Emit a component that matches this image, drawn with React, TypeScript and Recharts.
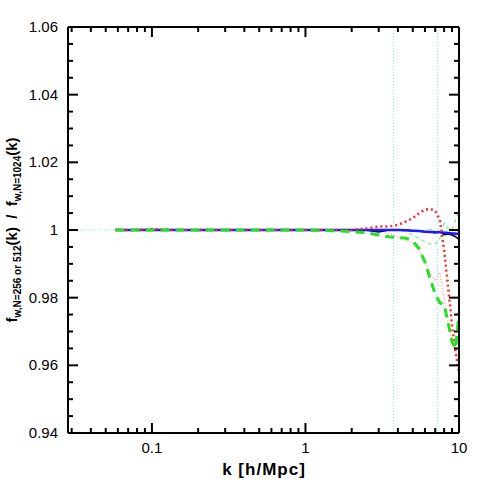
import { LineChart, Line, XAxis, YAxis, ReferenceLine } from 'recharts';

// ----------------------------------------------------------------------

const kGrid = [
  0.058, 0.08, 0.1, 0.15, 0.2, 0.3, 0.5, 0.7, 1, 1.5, 2, 2.5, 3, 3.5, 4, 4.5, 5, 5.5, 6, 6.5, 7,
  7.5, 8, 8.5, 9, 9.5, 10,
];

const blackSolid = [
  1, 1, 1, 1, 1, 1, 1, 1, 1, 1, 1, 0.9999, 0.9994, 1, 1, 0.9999, 0.9998, 0.9997, 0.9995, 0.9994,
  0.9992, 0.9995, 0.9986, 0.9988, 0.9985, 0.998, 0.9972,
];
const blueSolid = [
  1, 1, 1, 1, 1, 1, 1, 1, 1, 1, 1, 1, 1, 1, 1, 0.9999, 0.9998, 0.9997, 0.9995, 0.9994, 0.9993,
  0.9993, 0.9992, 0.9991, 0.999, 0.9989, 0.9988,
];
const greySolid = [
  1, 1, 1, 1, 1, 1, 1, 1, 1, 1, 1, 1, 1, 1, 1, 1, 0.9998, 0.9997, 0.9995, 1.0002, 0.9992, 0.9998,
  0.9995, 0.9993, 0.9992, 0.9993, 0.9995,
];
const redDotted = [
  1, 1, 1.0003, 1, 1, 1, 1, 1, 1, 1, 1, 1.0005, 1.001, 1.001, 1.0015, 1.0025, 1.0035, 1.005, 1.006,
  1.0062, 1.0057, 1.003, 0.994, 0.983, 0.972, 0.964, 0.958,
];
const greenDashed = [
  1, 1, 1, 1, 1, 1, 1, 1, 1, 0.9998, 0.9995, 0.9992, 0.9985, 0.998, 0.9978, 0.9976, 0.9967, 0.9945,
  0.9905, 0.9855, 0.981, 0.9785, 0.978, 0.9725, 0.967, 0.965, 0.9755,
];
const pinkDotted = [
  1, 1, 1, 1, 1, 1, 1, 1, 1, 1, 1, 1, 1, 0.999, 0.998, 0.997, 0.996, 0.994, 0.991, 0.9875, 0.985,
  0.9875, 0.98, 0.9725, 0.967, 0.964, 0.961,
];
const lightGreenDashed = [
  1, 1, 1, 1, 1, 1, 1, 1, 1, 1, 1, 1, 1, 1, 1, 0.9995, 0.9985, 0.9975, 0.9965, 0.9958, 0.9958,
  0.9975, 1.002, 1.0005, 1, 1.003, 1.006,
];

const xTicks = [
  0.03, 0.04, 0.05, 0.06, 0.07, 0.08, 0.09, 0.1, 0.2, 0.3, 0.4, 0.5, 0.6, 0.7, 0.8, 0.9, 1, 2, 3, 4,
  5, 6, 7, 8, 9, 10,
];
const xMajor = [0.1, 1, 10];
const yTicks = [
  0.94, 0.945, 0.95, 0.955, 0.96, 0.965, 0.97, 0.975, 0.98, 0.985, 0.99, 0.995, 1, 1.005, 1.01,
  1.015, 1.02, 1.025, 1.03, 1.035, 1.04, 1.045, 1.05, 1.055, 1.06,
];
const yMajor = [0.94, 0.96, 0.98, 1, 1.02, 1.04, 1.06];
const resolutionMarks = [3.74, 7.24];

// ----------------------------------------------------------------------

const FONT = '"Liberation Sans", Arial, sans-serif';
const CYAN = '#7ff0ff';

const toRows = (vals: number[]) => kGrid.map((k, i) => ({ k, v: vals[i] }));

const isMajor = (list: number[], v: number) => list.some((m) => Math.abs(m - v) < 1e-9);

// ticks point into the plot, major ones longer; labels only on bottom/left
function makeTick(side: 'bottom' | 'top' | 'left' | 'right') {
  return (props: any) => {
    const { x, y, payload } = props;
    const v = payload.value as number;
    const horizontal = side === 'bottom' || side === 'top';
    const major = isMajor(horizontal ? xMajor : yMajor, v);
    const len = major ? 10 : 5;
    const showLabel = major && (side === 'bottom' || side === 'left');
    let dx = 0;
    let dy = 0;
    if (side === 'bottom') dy = -len;
    if (side === 'top') dy = len;
    if (side === 'left') dx = len;
    if (side === 'right') dx = -len;
    return (
      <g>
        <line x1={x} y1={y} x2={x + dx} y2={y + dy} stroke="#000" strokeWidth={2} />
        {showLabel && side === 'bottom' && (
          <text x={x} y={y + 20} textAnchor="middle" fontFamily={FONT} fontSize={15} fill="#000">
            {String(v)}
          </text>
        )}
        {showLabel && side === 'left' && (
          <text x={x - 10} y={y + 5} textAnchor="end" fontFamily={FONT} fontSize={15} fill="#000">
            {String(v)}
          </text>
        )}
      </g>
    );
  };
}

const YLabel = () => (
  <text
    x={17}
    y={230}
    transform="rotate(-90 17 230)"
    textAnchor="middle"
    fontFamily={FONT}
    fontSize={15}
    fontWeight="bold"
    fill="#000"
  >
    <tspan>f</tspan>
    <tspan fontSize={10} dy={4}>
      w,N=256 or 512
    </tspan>
    <tspan dy={-4}>{'(k)\u00a0\u00a0/\u00a0\u00a0f'}</tspan>
    <tspan fontSize={10} dy={4}>
      w,N=1024
    </tspan>
    <tspan dy={-4}>(k)</tspan>
  </text>
);

const XLabel = () => (
  <text
    x={264}
    y={475}
    textAnchor="middle"
    fontFamily={FONT}
    fontSize={17}
    fontWeight="bold"
    letterSpacing={1}
    fill="#000"
  >
    k [h/Mpc]
  </text>
);

// ----------------------------------------------------------------------

export default function App() {
  const domainX: [number, number] = [0.0284, 10];
  const domainY: [number, number] = [0.94, 1.06];
  const axisLine = { stroke: '#000', strokeWidth: 2 };
  return (
    <div style={{ position: 'absolute', left: 0, top: 0, width: 485, height: 485, background: '#fff' }}>
      <LineChart width={485} height={485} margin={{ top: 0, right: 0, bottom: 0, left: 0 }}>
        <XAxis
          xAxisId="b"
          dataKey="k"
          type="number"
          scale="log"
          domain={domainX}
          allowDataOverflow
          ticks={xTicks}
          interval={0}
          height={52}
          tickSize={0}
          tickMargin={0}
          tickLine={false}
          axisLine={axisLine}
          tick={makeTick('bottom')}
          label={<XLabel />}
        />
        <XAxis
          xAxisId="t"
          dataKey="k"
          type="number"
          scale="log"
          orientation="top"
          domain={domainX}
          allowDataOverflow
          ticks={xTicks}
          interval={0}
          height={27}
          tickSize={0}
          tickMargin={0}
          tickLine={false}
          axisLine={axisLine}
          tick={makeTick('top')}
        />
        <YAxis
          yAxisId="l"
          type="number"
          domain={domainY}
          allowDataOverflow
          ticks={yTicks}
          interval={0}
          width={68}
          tickSize={0}
          tickMargin={0}
          tickLine={false}
          axisLine={axisLine}
          tick={makeTick('left')}
          label={<YLabel />}
        />
        <YAxis
          yAxisId="r"
          orientation="right"
          type="number"
          domain={domainY}
          allowDataOverflow
          ticks={yTicks}
          interval={0}
          width={26}
          tickSize={0}
          tickMargin={0}
          tickLine={false}
          axisLine={axisLine}
          tick={makeTick('right')}
        />
        <ReferenceLine xAxisId="b" yAxisId="l" y={1} stroke={CYAN} strokeDasharray="1 2" />
        {resolutionMarks.map((k) => (
          <ReferenceLine
            key={k}
            xAxisId="b"
            yAxisId="l"
            x={k}
            stroke={CYAN}
            strokeDasharray="1 2"
          />
        ))}
        <Line
          xAxisId="b"
          yAxisId="l"
          data={toRows(greySolid)}
          dataKey="v"
          stroke="#a8b8d8"
          strokeWidth={1}
          dot={false}
          isAnimationActive={false}
        />
        <Line
          xAxisId="b"
          yAxisId="l"
          data={toRows(pinkDotted)}
          dataKey="v"
          stroke="#ff9c9c"
          strokeWidth={1.3}
          strokeDasharray="1 2"
          dot={false}
          isAnimationActive={false}
        />
        <Line
          xAxisId="b"
          yAxisId="l"
          data={toRows(lightGreenDashed)}
          dataKey="v"
          stroke="#88ee88"
          strokeWidth={1.3}
          strokeDasharray="4 3"
          dot={false}
          isAnimationActive={false}
        />
        <Line
          xAxisId="b"
          yAxisId="l"
          data={toRows(blackSolid)}
          dataKey="v"
          stroke="#000"
          strokeWidth={1.5}
          dot={false}
          isAnimationActive={false}
        />
        <Line
          xAxisId="b"
          yAxisId="l"
          data={toRows(blueSolid)}
          dataKey="v"
          stroke="#1a1aff"
          strokeWidth={2.5}
          dot={false}
          isAnimationActive={false}
        />
        <Line
          xAxisId="b"
          yAxisId="l"
          data={toRows(redDotted)}
          dataKey="v"
          stroke="#ff2a2a"
          strokeWidth={2.5}
          strokeDasharray="2 3"
          dot={false}
          isAnimationActive={false}
        />
        <Line
          xAxisId="b"
          yAxisId="l"
          data={toRows(greenDashed)}
          dataKey="v"
          stroke="#22e022"
          strokeWidth={3}
          strokeDasharray="9 6"
          dot={false}
          isAnimationActive={false}
        />
      </LineChart>
    </div>
  );
}
